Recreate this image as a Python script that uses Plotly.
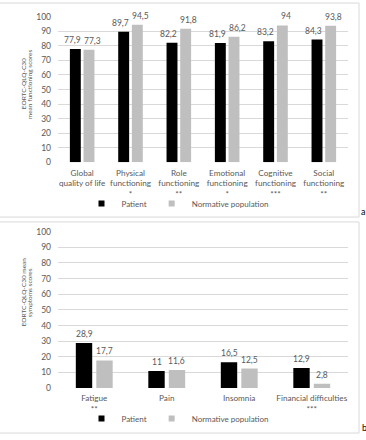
import plotly.graph_objects as go

W, H = 366, 440

# ---- data ----
func_categories = ["Global quality of life", "Physical functioning", "Role functioning",
                   "Emotional functioning", "Cognitive functioning", "Social functioning"]
func_tick_lines = ["Global<br>quality of life", "Physical<br>functioning", "Role<br>functioning",
                   "Emotional<br>functioning", "Cognitive<br>functioning", "Social<br>functioning"]
func_sig = ["", "*", "**", "*", "***", "**"]
func_patient = [77.9, 89.7, 82.2, 81.9, 83.2, 84.3]
func_normative = [77.3, 94.5, 91.8, 86.2, 94, 93.8]

sym_categories = ["Fatigue", "Pain", "Insomnia", "Financial difficulties"]
sym_sig = ["**", "", "", "***"]
sym_patient = [28.9, 11, 16.5, 12.9]
sym_normative = [17.7, 11.6, 12.5, 2.8]

y_ticks = list(range(0, 101, 10))
series_names = ["Patient", "Normative population"]


def px_x(p):
    return p / W


def px_y(p):
    return 1 - p / H


def fmt(v):
    return f"{v:g}".replace(".", ",")


def ticklabels(lines, sig):
    return [l + ("<br>" + s if s else "") for l, s in zip(lines, sig)]


FONT = "Lato"
GREY_TXT = "#595959"
BLACK = "#000000"
GREY_BAR = "#bfbfbf"
GRID = "#d9d9d9"
LABEL_DX = 10      # px offset of data labels from category centre
LABEL_DY = 9       # px above bar top

fig = go.Figure()

panels = [
    ("x", "y", "legend", func_categories, [func_patient, func_normative]),
    ("x2", "y2", "legend2", sym_categories, [sym_patient, sym_normative]),
]
colors = [BLACK, GREY_BAR]

for xa, ya, lg, cats, series in panels:
    for k, (name, vals, col) in enumerate(zip(series_names, series, colors)):
        fig.add_trace(go.Bar(
            x=cats, y=vals, name=name, marker_color=col, marker_line_width=0,
            xaxis=xa, yaxis=ya, showlegend=False, hoverinfo="x+y",
        ))
        # legend proxy (small square like the original)
        fig.add_trace(go.Scatter(
            x=[None], y=[None], mode="markers", name=name,
            marker=dict(symbol="square", size=6, color=col),
            xaxis=xa, yaxis=ya, legend=lg, showlegend=True,
        ))
        for c, v in zip(cats, vals):
            fig.add_annotation(
                x=c, y=v, xref=xa, yref=ya, text=fmt(v), showarrow=False,
                xshift=(-LABEL_DX if k == 0 else LABEL_DX), yshift=LABEL_DY,
                yanchor="middle", xanchor="center",
                font=dict(size=8.5, color=GREY_TXT, family=FONT),
            )

axis_common_y = dict(range=[0, 100], tickvals=y_ticks, showgrid=True, gridcolor=GRID, gridwidth=1,
                     zeroline=False, showline=False, ticks="",
                     tickfont=dict(size=8.5, color=GREY_TXT, family=FONT), ticklabelstandoff=6,
                     fixedrange=True)
axis_common_x = dict(domain=[px_x(58), px_x(348)], showgrid=False, zeroline=False, showline=False,
                     ticks="", tickfont=dict(size=8.2, color=GREY_TXT, family=FONT), tickangle=0,
                     ticklabelstandoff=4)

legend_common = dict(orientation="h", xanchor="center", yanchor="middle",
                     font=dict(size=8, color=GREY_TXT, family=FONT), bgcolor="rgba(0,0,0,0)",
                     itemwidth=30, tracegroupgap=0)

fig.update_layout(
    width=W, height=H, margin=dict(l=0, r=0, t=0, b=0),
    paper_bgcolor="white", plot_bgcolor="white",
    font=dict(family=FONT, color=GREY_TXT),
    barmode="group", bargap=0.435, bargroupgap=0.2,
    xaxis=dict(axis_common_x, anchor="y", tickvals=func_categories,
               ticktext=ticklabels(func_tick_lines, func_sig)),
    yaxis=dict(axis_common_y, anchor="x", domain=[px_y(161), px_y(12)]),
    xaxis2=dict(axis_common_x, anchor="y2", tickvals=sym_categories,
                ticktext=ticklabels(sym_categories, sym_sig)),
    yaxis2=dict(axis_common_y, anchor="x2", domain=[px_y(392), px_y(232)]),
    legend=dict(legend_common, x=px_x(178), y=px_y(203)),
    legend2=dict(legend_common, x=px_x(178), y=px_y(423)),
    showlegend=True,
)

# panel frames
fig.add_shape(type="rect", xref="paper", yref="paper", x0=-0.02, x1=px_x(359),
              y0=px_y(217), y1=px_y(-2), line=dict(color=GRID, width=1), layer="below")
fig.add_shape(type="rect", xref="paper", yref="paper", x0=-0.02, x1=px_x(359),
              y0=px_y(438), y1=px_y(222), line=dict(color=GRID, width=1), layer="below")

# axis titles
title_font = dict(size=6.5, color=GREY_TXT, family=FONT)
for text, x, y in [("EORTC-QLQ-C30", 23, 81), ("mean functioning scores", 29, 81),
                   ("EORTC-QLQ-C30 mean", 23, 294), ("symptoms scores", 29, 295)]:
    fig.add_annotation(text=text, x=px_x(x), y=px_y(y), xref="paper", yref="paper",
                       textangle=-90, showarrow=False, font=title_font,
                       xanchor="center", yanchor="middle")

# panel letters
for text, x, y in [("a", 363, 211), ("b", 364, 432)]:
    fig.add_annotation(text=text, x=px_x(x), y=px_y(y), xref="paper", yref="paper",
                       showarrow=False, font=dict(size=9, color="black", family=FONT),
                       xanchor="center", yanchor="middle")

fig.write_html("out.html")
